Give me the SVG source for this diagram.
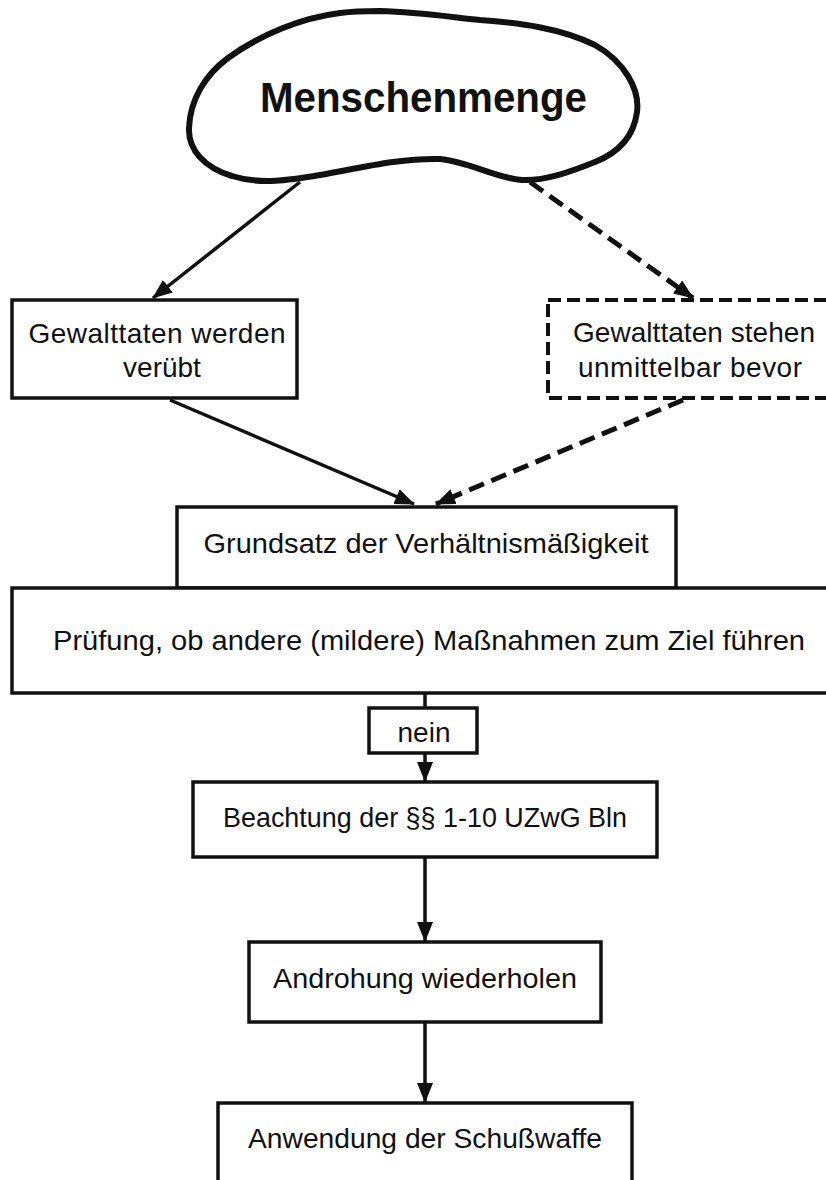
<svg xmlns="http://www.w3.org/2000/svg" width="826" height="1180" viewBox="0 0 826 1180">
  <defs>
    <style>
      .bg { fill: #ffffff; }
      .box { fill: #ffffff; stroke: #111111; stroke-width: 3.5; }
      .dbox { fill: #ffffff; stroke: #111111; stroke-width: 4; stroke-dasharray: 13 6; }
      .cloud { fill: #ffffff; stroke: #111111; stroke-width: 6; stroke-linejoin: round; }
      .edge { fill: none; stroke: #111111; stroke-width: 3.5; }
      .dedge { fill: none; stroke: #111111; stroke-width: 5; stroke-dasharray: 16 8; }
      .lbl { font-family: "Liberation Sans", Arial, sans-serif; font-size: 28px; fill: #111111; text-anchor: middle; }
      .title { font-family: "Liberation Sans", Arial, sans-serif; font-size: 42px; font-weight: bold; fill: #111111; }
    </style>
    <marker id="arrow" viewBox="0 0 20 16" refX="19" refY="8" markerWidth="20" markerHeight="16" markerUnits="userSpaceOnUse" orient="auto">
      <path d="M0,0 L20,8 L0,16 Z" fill="#111111"/>
    </marker>
  </defs>

  <rect class="bg" x="0" y="0" width="826" height="1180"/>

  <!-- connectors -->
  <g id="connectors">
    <line class="edge" x1="300" y1="182" x2="153" y2="298" marker-end="url(#arrow)"/>
    <line class="dedge" x1="530" y1="182" x2="693" y2="298" marker-end="url(#arrow)"/>
    <line class="edge" x1="170" y1="400" x2="414" y2="504" marker-end="url(#arrow)"/>
    <line class="dedge" x1="683" y1="400" x2="436" y2="504" marker-end="url(#arrow)"/>
    <line class="edge" x1="425" y1="693" x2="425" y2="708"/>
    <line class="edge" x1="425" y1="753" x2="425" y2="781" marker-end="url(#arrow)"/>
    <line class="edge" x1="425" y1="857" x2="425" y2="941" marker-end="url(#arrow)"/>
    <line class="edge" x1="425" y1="1022" x2="425" y2="1102" marker-end="url(#arrow)"/>
  </g>

  <!-- crowd -->
  <g id="crowd">
    <path class="cloud" d="M380,11 C420,12 450,17 480,20 C520,23 560,28 595,45 C625,62 640,90 637,112 C634,135 620,152 595,162 C570,172 545,181 522,180 C495,178 470,162 440,159 C400,158 360,168 320,175 C290,180 260,185 232,176 C205,168 188,150 189,128 C190,100 205,75 228,58 C260,35 300,18 340,13 C355,11 368,11 380,11 Z"/>
    <text class="title" x="260" y="112" textLength="327" lengthAdjust="spacingAndGlyphs">Menschenmenge</text>
  </g>

  <!-- violence committed -->
  <g id="committed">
    <rect class="box" x="12" y="300" width="285" height="98"/>
    <text class="lbl" x="157" y="343" textLength="257" lengthAdjust="spacing">Gewalttaten werden</text>
    <text class="lbl" x="162" y="377">verübt</text>
  </g>

  <!-- violence imminent -->
  <g id="imminent">
    <rect class="dbox" x="548" y="300" width="300" height="98"/>
    <text class="lbl" x="694" y="342" textLength="242" lengthAdjust="spacing">Gewalttaten stehen</text>
    <text class="lbl" x="690" y="377" textLength="224" lengthAdjust="spacing">unmittelbar bevor</text>
  </g>

  <!-- proportionality -->
  <g id="proportionality">
    <rect class="box" x="177" y="507" width="499" height="81"/>
    <text class="lbl" x="426" y="553" textLength="445" lengthAdjust="spacingAndGlyphs">Grundsatz der Verhältnismäßigkeit</text>
  </g>

  <!-- milder measures -->
  <g id="milder">
    <rect class="box" x="12" y="588" width="830" height="105"/>
    <text class="lbl" x="429" y="650" textLength="752" lengthAdjust="spacingAndGlyphs">Prüfung, ob andere (mildere) Maßnahmen zum Ziel führen</text>
  </g>

  <!-- no -->
  <g id="no">
    <rect class="box" x="369" y="708" width="108" height="45"/>
    <text class="lbl" x="424" y="742">nein</text>
  </g>

  <!-- observe rules -->
  <g id="observe">
    <rect class="box" x="193" y="782" width="464" height="75"/>
    <text class="lbl" x="425" y="827" textLength="404" lengthAdjust="spacingAndGlyphs">Beachtung der §§ 1-10 UZwG Bln</text>
  </g>

  <!-- repeat warning -->
  <g id="warning">
    <rect class="box" x="249" y="942" width="352" height="80"/>
    <text class="lbl" x="425" y="988" textLength="304" lengthAdjust="spacingAndGlyphs">Androhung wiederholen</text>
  </g>

  <!-- use of firearm -->
  <g id="firearm">
    <rect class="box" x="218" y="1103" width="414" height="100"/>
    <text class="lbl" x="425" y="1148" textLength="354" lengthAdjust="spacingAndGlyphs">Anwendung der Schußwaffe</text>
  </g>
</svg>
